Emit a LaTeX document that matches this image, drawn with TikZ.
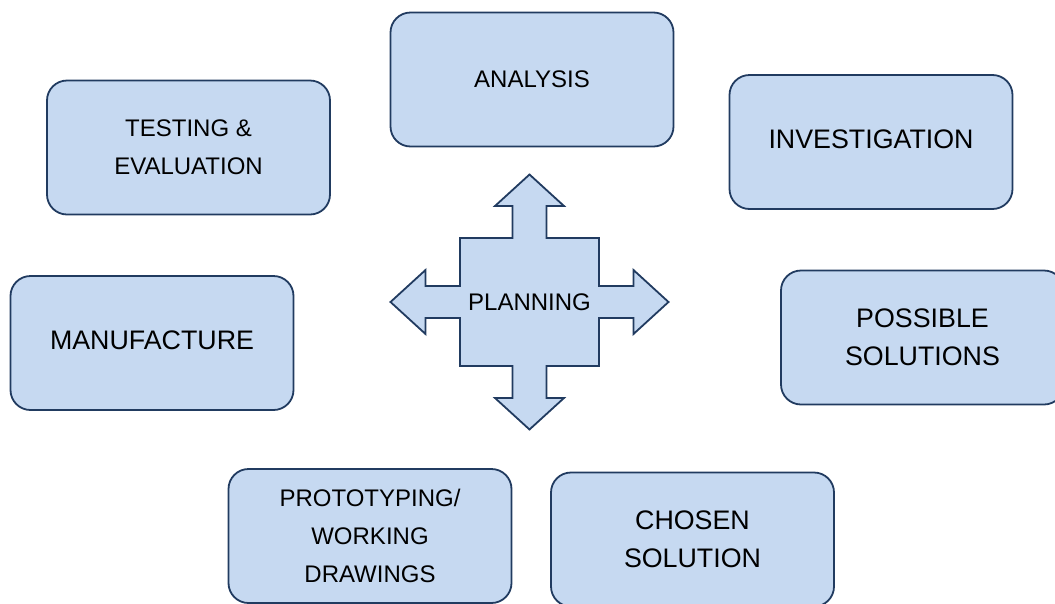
\documentclass[tikz,border=0pt]{standalone}
\usepackage{fontspec}
\setmainfont{Liberation Sans}
\usetikzlibrary{calc}

\definecolor{boxfill}{HTML}{C6D9F1}
\definecolor{boxline}{HTML}{213B60}

\begin{document}
\begin{tikzpicture}[x=1pt,y=-1pt,
	stage/.style={draw=boxline,fill=boxfill,line width=1.8pt,rounded corners=20pt,
		minimum width=283pt,minimum height=134pt,align=center,inner sep=0pt},
	small/.style={font=\fontsize{24}{38}\selectfont},
	big/.style={font=\fontsize{26.8}{38}\selectfont}]
	\useasboundingbox (0,0) rectangle (1055,603);
	% outer stages
	\node[stage,small] (analysis) at (532,79.5) {ANALYSIS};
	\node[stage,small] (testing) at (188.5,147.5) {TESTING \&\\EVALUATION};
	\node[stage,big,text depth=6pt] (investigation) at (871,142) {INVESTIGATION};
	\node[stage,big,text depth=6pt] (manufacture) at (152,343) {MANUFACTURE};
	\node[stage,big] (possible) at (922.5,337.5) {POSSIBLE\\SOLUTIONS};
	\node[stage,small] (prototyping) at (370,536) {PROTOTYPING/\\WORKING\\DRAWINGS};
	\node[stage,big] (chosen) at (692.5,539.5) {CHOSEN\\SOLUTION};
	% four way arrow in the middle
	\coordinate (plan) at (529.5,302);
	\draw[draw=boxline,fill=boxfill,line width=1.8pt,shift={(plan)}]
		(0,-127.5) -- (34.5,-96) -- (17,-96) -- (17,-64) -- (69.5,-64) -- (69.5,-16)
		-- (104,-16) -- (104,-32) -- (139,0) -- (104,32) -- (104,16) -- (69.5,16)
		-- (69.5,64) -- (17,64) -- (17,96) -- (34.5,96) -- (0,127.5) -- (-34.5,96)
		-- (-17,96) -- (-17,64) -- (-69.5,64) -- (-69.5,16) -- (-104,16) -- (-104,32)
		-- (-139,0) -- (-104,-32) -- (-104,-16) -- (-69.5,-16) -- (-69.5,-64)
		-- (-17,-64) -- (-17,-96) -- (-34.5,-96) -- cycle;
	\node[small] (planning) at (plan) {PLANNING};
\end{tikzpicture}
\end{document}
